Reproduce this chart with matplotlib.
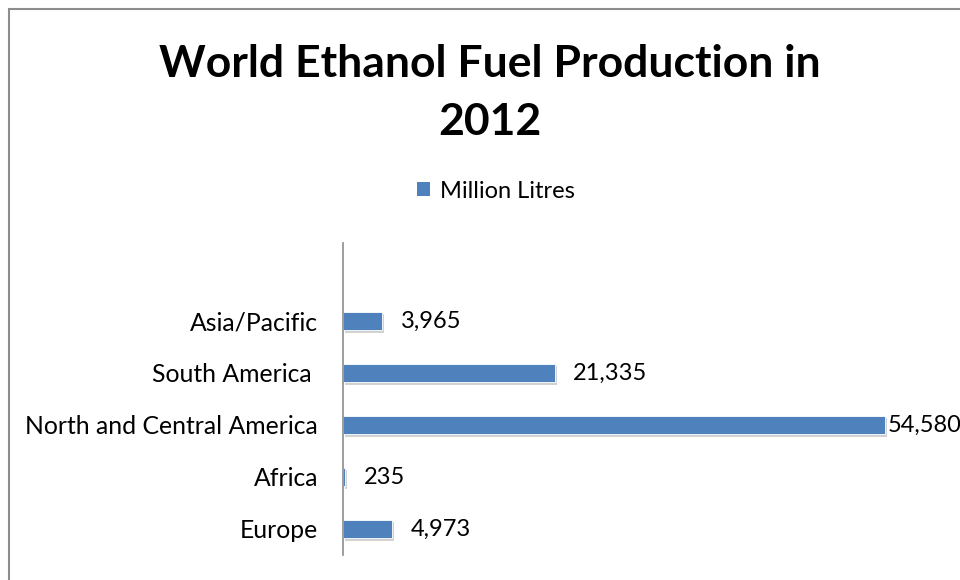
import matplotlib.pyplot as plt
import matplotlib.patheffects as pe
from matplotlib.patches import Rectangle, Patch

# data
regions = ['Europe', 'Africa', 'North and Central America', 'South America ', 'Asia/Pacific']
litres = [4973, 235, 54580, 21335, 3965]
series_name = 'Million Litres'
title = 'World Ethanol Fuel Production in\n2012'

BAR_COLOR = '#4F81BD'
plt.rcParams['font.family'] = ['Lato', 'DejaVu Sans']

fig = plt.figure(figsize=(9.6, 5.8), dpi=100)
W, H = 960, 580

# chart border (cut off at right and bottom like the original)
fig.add_artist(Rectangle((9 / W, -0.05), 1.2, (H - 9) / H + 0.05,
                         transform=fig.transFigure, fill=False,
                         edgecolor='#8c8c8c', linewidth=1.5))

ax = fig.add_axes([343 / W, 1 - 555 / H, (W - 343) / W, (555 - 243) / H])
xmax = max(litres) * (W - 343) / (885 - 343)
ax.set_xlim(0, xmax)
ax.set_ylim(-0.5, 5.5)

y = range(len(regions))
bars = ax.barh(y, litres, height=0.36, color=BAR_COLOR, edgecolor='white', linewidth=0.6)
for b in bars:
    b.set_path_effects([pe.SimplePatchShadow(offset=(1.5, -2), shadow_rgbFace='#7f7f7f', alpha=0.35),
                        pe.Normal()])

for yi, v in zip(y, litres):
    off = 2 if v == max(litres) else 13
    ax.annotate(f'{v:,}', (v, yi), xytext=(off, 0), textcoords='offset points',
                va='center', ha='left', fontsize=17)

ax.set_yticks(list(y))
ax.set_yticklabels(regions, fontsize=17.8)
ax.tick_params(axis='y', length=0, pad=18)
ax.set_xticks([])
for s in ['top', 'right', 'bottom']:
    ax.spines[s].set_visible(False)
ax.spines['left'].set_color('#8c8c8c')
ax.spines['left'].set_linewidth(1.2)
ax.patch.set_alpha(0)

fig.text(490 / W, 1 - 93 / H, title, ha='center', va='center', fontsize=32,
         fontweight='bold', linespacing=1.55)

handle = Patch(facecolor=BAR_COLOR, edgecolor='none')
fig.legend(handles=[handle], labels=[series_name], loc='center', bbox_to_anchor=(496 / W, 1 - 191 / H),
           frameon=False, fontsize=17, handlelength=0.55, handleheight=0.55, handletextpad=0.4)

fig.savefig('out.png', dpi=100)
